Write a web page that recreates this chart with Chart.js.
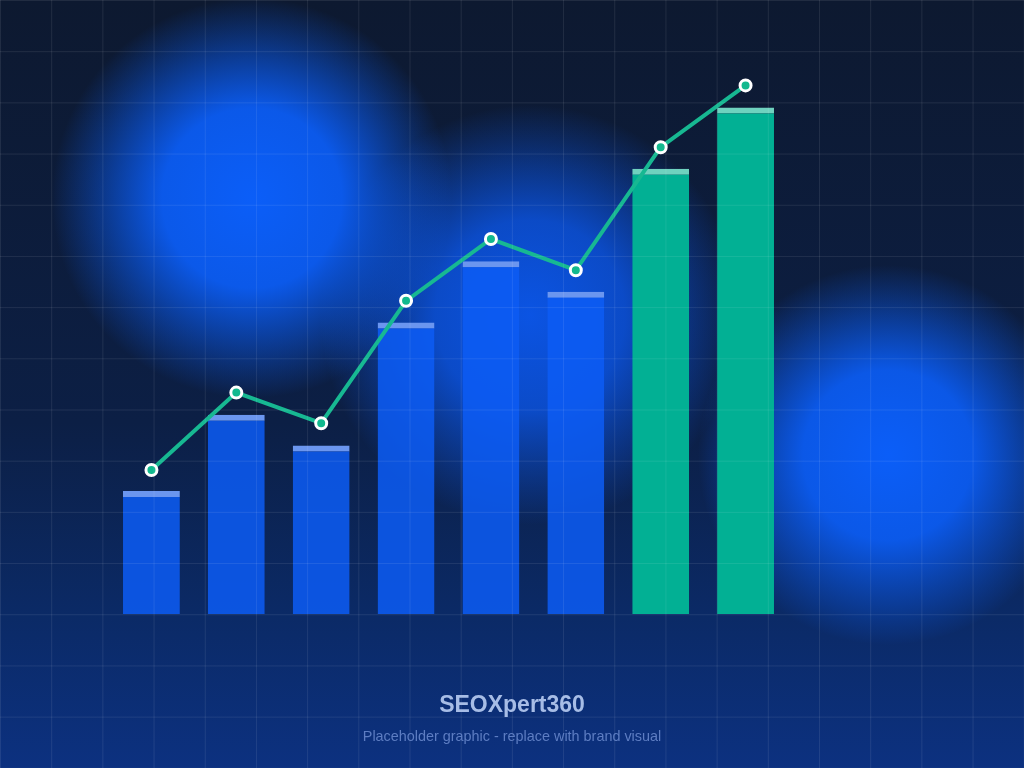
<!DOCTYPE html>
<html>
<head>
<meta charset="utf-8">
<title>SEOXpert360</title>
<script src="https://cdn.jsdelivr.net/npm/chart.js@4/dist/chart.umd.min.js"></script>
<style>

html,body{
    margin:0;
    padding:0;
    width:1024px;
    height:768px;
    overflow:hidden;
}

body{
    position:relative;
    font-family:"Liberation Sans", Arial, sans-serif;
    background:
        radial-gradient(circle at 252px 198px, rgba(11,94,248,1) 0, rgba(11,94,248,0.92) 90px, rgba(11,94,248,0) 200px),
        radial-gradient(circle at 530px 315px, rgba(11,90,245,0.9) 0, rgba(11,90,245,0.75) 95px, rgba(11,90,245,0) 210px),
        radial-gradient(circle at 888px 455px, rgba(11,94,248,1) 0, rgba(11,94,248,0.9) 85px, rgba(11,94,248,0) 190px),
        linear-gradient(to bottom, #0d1930 0%, #0c1f45 55%, #0b2a66 80%, #0c3180 100%);
}

#wrap{
    position:absolute;
    left:0;
    top:0;
    width:1024px;
    height:768px;
}

/* faint grid over everything */
#grid{
    position:absolute;
    left:0;
    top:0;
    width:1024px;
    height:768px;
    pointer-events:none;
    background-image:
        linear-gradient(to right, rgba(255,255,255,0.085) 1px, transparent 1px),
        linear-gradient(to bottom, rgba(255,255,255,0.085) 1px, transparent 1px);
    background-size:51.2px 51.2px;
}

.brand{
    position:absolute;
    left:0;
    width:1024px;
    text-align:center;
    line-height:1;
}

#brandTitle{
    top:693px;
    font-size:23px;
    font-weight:bold;
    color:#a7bde6;
}

#brandSub{
    top:729px;
    font-size:14.4px;
    color:#5d7dc2;
}

</style>
</head>
<body>

<div id="wrap">
    <canvas id="growthChart"></canvas>
</div>

<div id="grid"></div>

<div class="brand" id="brandTitle">SEOXpert360</div>
<div class="brand" id="brandSub">Placeholder graphic - replace with brand visual</div>

<script>

/* =========================
   DATA
========================= */

const periods =
["P1","P2","P3","P4","P5","P6","P7","P8"];

const barValues =
[20.5,33.2,28.1,48.6,58.8,53.7,74.2,84.4];

const trendValues =
[24.0,36.9,31.8,52.2,62.5,57.3,77.8,88.1];

// last two periods are highlighted
const highlighted =
[false,false,false,false,false,false,true,true];


/* =========================
   CHART
========================= */

const barFill =
highlighted.map(
    h => h ? "#02b094" : "rgba(13,92,245,0.86)"
);

const barCap =
highlighted.map(
    h => h ? "#6fd2bf" : "#6b96ef"
);

new Chart(
    document.getElementById("growthChart"),
    {

        data:{

            labels:periods,

            datasets:[

                {
                    type:"line",
                    data:trendValues,
                    order:0,
                    borderColor:"#17b892",
                    borderWidth:4,
                    tension:0,
                    pointRadius:5.5,
                    pointBorderWidth:3,
                    pointBorderColor:"#ffffff",
                    pointBackgroundColor:"#12b98e"
                },

                {
                    type:"bar",
                    data:barValues,
                    order:1,
                    backgroundColor:barFill,
                    borderColor:barCap,
                    borderWidth:{top:6,left:0,right:0,bottom:0},
                    borderSkipped:false,
                    barPercentage:0.67,
                    categoryPercentage:1
                }

            ]

        },

        options:{

            responsive:true,

            maintainAspectRatio:false,

            animation:false,

            layout:{
                padding:{left:109,right:236,top:14,bottom:154}
            },

            plugins:{

                legend:{display:false},

                tooltip:{enabled:false}

            },

            scales:{

                x:{
                    display:false
                },

                y:{
                    display:false,
                    min:0,
                    max:100
                }

            }

        }

    }
);

</script>

</body>
</html>
